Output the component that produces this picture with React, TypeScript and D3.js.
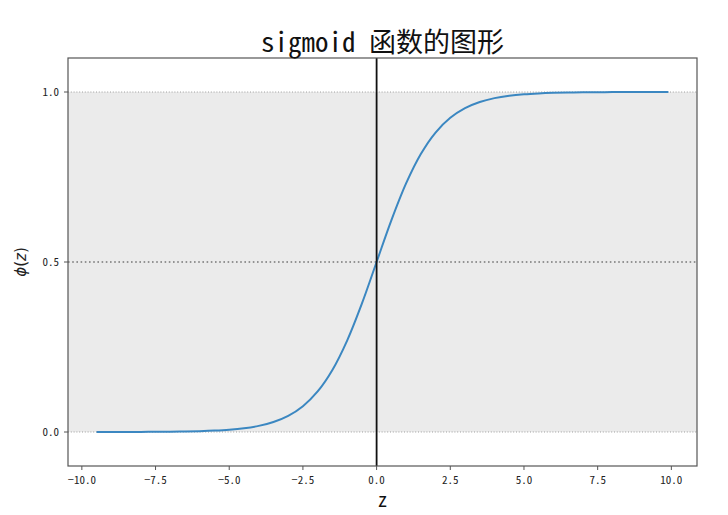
import React from "react";
import * as d3 from "d3";

const zValues = [-9.5, -9, -8.5, -8, -7.5, -7, -6.5, -6, -5.5, -5, -4.5, -4, -3.5, -3, -2.5, -2, -1.5, -1, -0.5, 0, 0.5, 1, 1.5, 2, 2.5, 3, 3.5, 4, 4.5, 5, 5.5, 6, 6.5, 7, 7.5, 8, 8.5, 9, 9.5, 9.9];
const phiValues = [0.0001, 0.0001, 0.0002, 0.0003, 0.0006, 0.0009, 0.0015, 0.0025, 0.0041, 0.0067, 0.011, 0.018, 0.0293, 0.0474, 0.0759, 0.1192, 0.1824, 0.2689, 0.3775, 0.5, 0.6225, 0.7311, 0.8176, 0.8808, 0.9241, 0.9526, 0.9707, 0.982, 0.989, 0.9933, 0.9959, 0.9975, 0.9985, 0.9991, 0.9994, 0.9997, 0.9998, 0.9999, 0.9999, 1.0];
const xTicks = [-10, -7.5, -5, -2.5, 0, 2.5, 5, 7.5, 10];
const yTicks = [0, 0.5, 1.0];
const titleText = "sigmoid 函数的图形";

const W = 728, H = 515;
const L = 68, R = 697, T = 58, B = 466;
const CJK = "'Noto Sans Mono CJK SC', 'Noto Sans CJK SC', 'DejaVu Sans Mono', monospace";

export default function App() {
  const x = d3.scaleLinear().domain([-10.47, 10.87]).range([L, R]);
  const y = d3.scaleLinear().domain([-0.1, 1.1]).range([B, T]);
  const pts = zValues.map((z, i) => [z, phiValues[i]] as [number, number]);
  const line = d3.line<[number, number]>().x(d => x(d[0])).y(d => y(d[1])).curve(d3.curveCatmullRom);
  return (
    <svg width={W} height={H} style={{ position: "absolute", left: 0, top: 0, background: "#fff" }}>
      <rect x={L} y={y(1)} width={R - L} height={y(0) - y(1)} fill="#ebebeb" />
      {[0, 1].map(v => (
        <line key={v} x1={L} x2={R} y1={y(v)} y2={y(v)} stroke="#888" strokeWidth={0.8} strokeDasharray="1,1.8" />
      ))}
      <line x1={L} x2={R} y1={y(0.5)} y2={y(0.5)} stroke="#777" strokeWidth={1.6} strokeDasharray="1.6,2.6" />
      <path d={line(pts) || ""} fill="none" stroke="#3b87c1" strokeWidth={2} />
      <line x1={x(0)} x2={x(0)} y1={T} y2={B} stroke="#111" strokeWidth={1.8} />
      <rect x={L} y={T} width={R - L} height={B - T} fill="none" stroke="#555" strokeWidth={1.2} />
      {xTicks.map(t => (
        <g key={t} transform={`translate(${x(t)},0)`}>
          <line y1={B} y2={B + 4} stroke="#555" strokeWidth={1} />
          <text y={B + 18} textAnchor="middle" fontFamily={CJK} fontSize={11} fill="#222">{t.toFixed(1).replace("-", "−")}</text>
        </g>
      ))}
      {yTicks.map(t => (
        <g key={t} transform={`translate(0,${y(t)})`}>
          <line x1={L - 4} x2={L} stroke="#555" strokeWidth={1} />
          <text x={L - 9} dy="0.35em" textAnchor="end" fontFamily={CJK} fontSize={11} fill="#222">{t.toFixed(1)}</text>
        </g>
      ))}
      <text x={(L + R) / 2} y={52} textAnchor="middle" fontFamily={CJK} fontSize={27} fontWeight={500} fill="#111">{titleText}</text>
      <text x={(L + R) / 2} y={507} textAnchor="middle" fontFamily={CJK} fontSize={19} fontWeight={500} fill="#111">z</text>
      <text transform={`translate(26,${y(0.5)}) rotate(-90)`} textAnchor="middle" fontFamily="'DejaVu Sans', sans-serif" fontSize={15} fill="#222">
        <tspan fontStyle="italic">ϕ</tspan>(<tspan fontStyle="italic">z</tspan>)
      </text>
    </svg>
  );
}
